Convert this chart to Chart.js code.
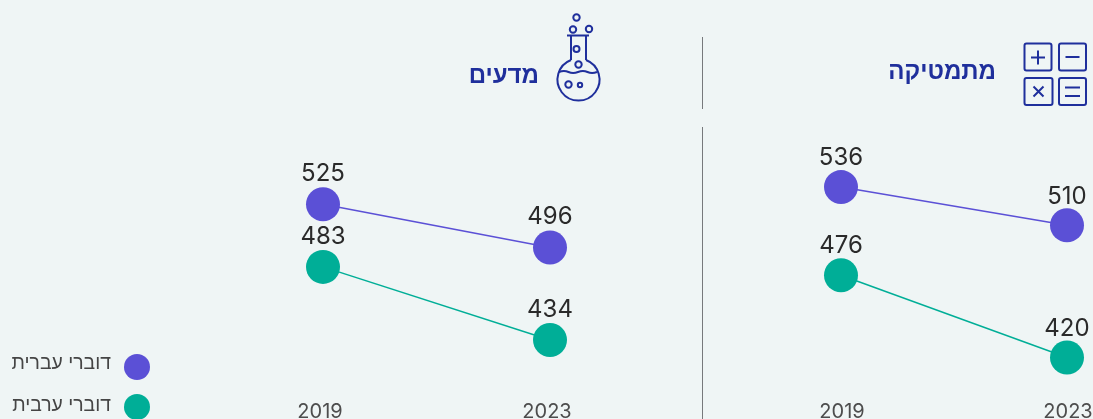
<!DOCTYPE html>
<html lang="he"><head><meta charset="utf-8">
<script src="https://cdn.jsdelivr.net/npm/chart.js@4"></script>
<style>
html,body{margin:0;padding:0;background:#eff5f5;overflow:hidden}
#stage{position:relative;width:1093px;height:419px;overflow:hidden;background:#eff5f5}
canvas{position:absolute;left:0;top:0}
.title{position:absolute;direction:rtl;font:bold 24px "Liberation Sans",sans-serif;color:#1f2f9c;white-space:nowrap;line-height:26px}
.leg{position:absolute;direction:rtl;font:19.4px "Liberation Sans",sans-serif;color:#454545;white-space:nowrap;line-height:22px;text-align:right}
.dot{position:absolute;width:26px;height:26px;border-radius:50%}
.rule{position:absolute;left:702px;width:1px;background:#77797c}
svg{position:absolute;left:0;top:0}
</style></head><body>
<div id="stage">
<canvas id="math" width="1093" height="419"></canvas>
<canvas id="science" width="1093" height="419"></canvas>
<div class="rule" style="top:37px;height:72px"></div>
<div class="rule" style="top:127px;height:292px"></div>
<div class="title" id="t1" style="right:97px;top:58px"></div>
<div class="title" id="t2" style="right:554px;top:62px"></div>
<div class="leg" id="l1" style="right:982px;top:351px"></div>
<div class="leg" id="l2" style="right:982px;top:393px"></div>
<div class="dot" id="d1" style="left:124px;top:354px"></div>
<div class="dot" id="d2" style="left:124px;top:394px"></div>
<svg width="1093" height="419" fill="none" stroke="#1f2f9c" stroke-width="2">
  <rect x="1024.5" y="43.5" width="27" height="27" rx="2"/><rect x="1059" y="43.5" width="27" height="27" rx="2"/>
  <rect x="1024.5" y="78" width="28" height="27" rx="2"/><rect x="1059" y="78" width="27" height="27" rx="2"/>
  <path d="M1031 57.5h14M1038 50.5v14M1065.5 57h14M1033.5 86.5l10 10M1043.5 86.5l-10 10M1065 87.5h15M1065 96h15"/>
  <path d="M567 35.5h22M571 36v24M586 36v24"/>
  <path d="M571 60A21 21 0 1 0 586 60"/>
  <path d="M559 72q5-2 9.5 0t9.5 0 9.5 0 9.5 0"/>
  <circle cx="576.5" cy="17.5" r="3.2"/><circle cx="573" cy="29.5" r="3.2"/><circle cx="589" cy="29" r="3.2"/>
  <circle cx="576.5" cy="49" r="3"/><circle cx="578.5" cy="64.5" r="3.2"/><circle cx="568.5" cy="84.5" r="3.2"/><circle cx="580" cy="85" r="2.2"/>
</svg>
</div>
<script>
const categories = ["2019", "2023"];
const seriesNames = ["דוברי עברית", "דוברי ערבית"];
const seriesColors = ["#5b50d6", "#00ae97"];
const mathHebrew = [536, 510];
const mathArabic = [476, 420];
const scienceHebrew = [525, 496];
const scienceArabic = [483, 434];
const subjectTitles = ["מתמטיקה", "מדעים"];

document.getElementById('t1').textContent = subjectTitles[0];
document.getElementById('t2').textContent = subjectTitles[1];
document.getElementById('l1').textContent = seriesNames[0];
document.getElementById('l2').textContent = seriesNames[1];
document.getElementById('d1').style.background = seriesColors[0];
document.getElementById('d2').style.background = seriesColors[1];

function valueLabels(gap) {
  return {
    id: 'valueLabels',
    afterDatasetsDraw(chart) {
      const ctx = chart.ctx;
      ctx.save();
      ctx.font = '24px Inter, sans-serif';
      ctx.fillStyle = '#2a2a2a';
      ctx.textAlign = 'center';
      ctx.textBaseline = 'middle';
      chart.data.datasets.forEach((ds, i) => {
        chart.getDatasetMeta(i).data.forEach((pt, j) => {
          ctx.fillText(String(ds.data[j]), pt.x, pt.y - gap);
        });
      });
      ctx.restore();
    }
  };
}

function build(id, a, b, pad, min, max, labelOffset, gap) {
  return new Chart(document.getElementById(id), {
    type: 'line',
    data: {
      labels: categories,
      datasets: [a, b].map((d, i) => ({
        label: seriesNames[i], data: d,
        borderColor: seriesColors[i], backgroundColor: seriesColors[i],
        borderWidth: 1.5, pointRadius: 17, pointHoverRadius: 17, pointBorderWidth: 0,
        tension: 0, clip: false, fill: false
      }))
    },
    options: {
      responsive: false, animation: false, events: [],
      layout: { padding: { left: pad[0], right: pad[1], top: 127, bottom: 0 } },
      plugins: { legend: { display: false }, tooltip: { enabled: false } },
      scales: {
        x: {
          offset: false,
          grid: { display: false }, border: { display: false },
          ticks: { autoSkip: false, maxRotation: 0, padding: 3, labelOffset: labelOffset, color: '#4d4d4d', font: { family: 'Inter, sans-serif', size: 20 } },
          afterFit(s) { s.height = 30; s.paddingLeft = 0; s.paddingRight = 0; }
        },
        y: { display: false, min: min, max: max }
      }
    },
    plugins: [valueLabels(gap)]
  });
}
build('math', mathHebrew, mathArabic, [841, 26], 398.6, 576.9, 1, 29);
build('science', scienceHebrew, scienceArabic, [323, 543], 401.2, 576.7, -3, 30.5);
</script>
</body></html>
